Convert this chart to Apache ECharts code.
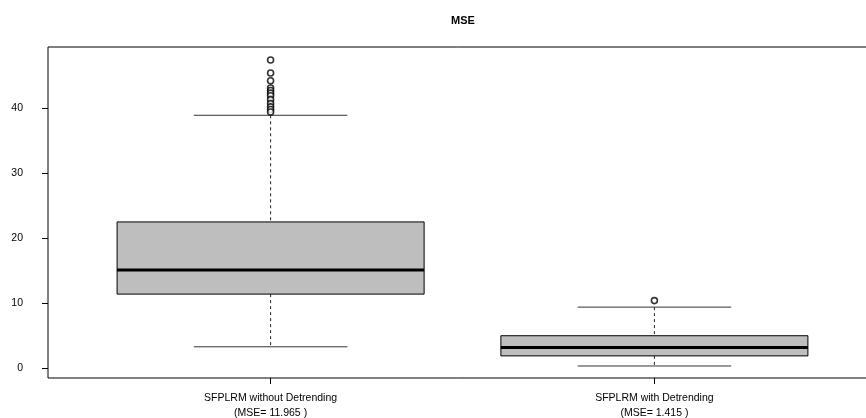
<!DOCTYPE html>
<html>
<head>
<meta charset="utf-8">
<script src="https://cdn.jsdelivr.net/npm/echarts@6/dist/echarts.min.js"></script>
<style>html,body{margin:0;padding:0;background:#fff}#c{width:866px;height:418px}</style>
</head>
<body>
<div id="c"></div>
<script>
// ---- data ----
const titleText = 'MSE';
const categories = ['SFPLRM without Detrending\n(MSE= 11.965 )', 'SFPLRM with Detrending\n(MSE= 1.415 )'];
const positions = [1, 2];
// [lower whisker, Q1, median, Q3, upper whisker]
const boxWithout = [3.3, 11.4, 15.1, 22.5, 38.9];
const boxWith = [0.35, 1.9, 3.2, 5.0, 9.4];
const outliersWithout = [47.4, 45.4, 44.2, 43.1, 42.7, 42.3, 41.9, 41.3, 40.7, 40.2, 39.8, 39.4];
const outliersWith = [10.4];
const yTicks = [0, 10, 20, 30, 40];

const boxData = [[positions[0]].concat(boxWithout), [positions[1]].concat(boxWith)];
const outlierData = outliersWithout.map(v => [positions[0], v]).concat(outliersWith.map(v => [positions[1], v]));

const FONT = 'Liberation Sans, Arial, Helvetica, sans-serif';
const chart = echarts.init(document.getElementById('c'), null, {renderer: 'canvas'});

function renderBox(params, api) {
  const x = api.value(0);
  const lo = api.value(1), q1 = api.value(2), med = api.value(3), q3 = api.value(4), hi = api.value(5);
  const hw = 0.4, cw = 0.2;
  const pL = api.coord([x - hw, q3]);
  const pR = api.coord([x + hw, q1]);
  const c = api.coord([x, med]);
  const pLo = api.coord([x, lo]);
  const pHi = api.coord([x, hi]);
  const cL = api.coord([x - cw, lo])[0];
  const cR = api.coord([x + cw, lo])[0];
  const ink = '#000';
  return {
    type: 'group',
    children: [
      {type: 'line', shape: {x1: c[0], y1: pHi[1], x2: c[0], y2: pL[1]}, style: {stroke: '#222', lineWidth: 1, lineDash: [3, 3]}},
      {type: 'line', shape: {x1: c[0], y1: pR[1], x2: c[0], y2: pLo[1]}, style: {stroke: '#222', lineWidth: 1, lineDash: [3, 3]}},
      {type: 'line', shape: {x1: cL, y1: pHi[1], x2: cR, y2: pHi[1]}, style: {stroke: '#333', lineWidth: 1}},
      {type: 'line', shape: {x1: cL, y1: pLo[1], x2: cR, y2: pLo[1]}, style: {stroke: '#333', lineWidth: 1}},
      {type: 'rect', shape: {x: pL[0], y: pL[1], width: pR[0] - pL[0], height: pR[1] - pL[1]}, style: {fill: '#bebebe', stroke: ink, lineWidth: 1}},
      {type: 'line', shape: {x1: pL[0], y1: c[1], x2: pR[0], y2: c[1]}, style: {stroke: ink, lineWidth: 3}}
    ]
  };
}

chart.setOption({
  animation: false,
  backgroundColor: '#fff',
  graphic: [{
    type: 'text', x: 463, y: 15,
    style: {text: titleText, textAlign: 'center', fill: '#000', font: 'bold 11px ' + FONT}
  }],
  grid: {left: 48, top: 47, width: 829, height: 331, show: true, borderColor: '#000', borderWidth: 1, outerBoundsMode: 'none', containLabel: false},
  xAxis: {
    type: 'value', min: 0.42, max: 2.58,
    axisLine: {show: false, onZero: false},
    splitLine: {show: false},
    axisTick: {show: true, customValues: positions, length: 6, lineStyle: {color: '#000', width: 1}},
    axisLabel: {
      show: true, customValues: positions, margin: 13,
      formatter: v => categories[positions.indexOf(Math.round(v))] || '',
      fontFamily: FONT, fontSize: 10.5, lineHeight: 15, color: '#000'
    }
  },
  yAxis: {
    type: 'value', min: -1.5, max: 49.4,
    axisLine: {show: false, onZero: false},
    splitLine: {show: false},
    axisTick: {show: true, customValues: yTicks, length: 6, lineStyle: {color: '#000'}},
    axisLabel: {show: true, customValues: yTicks, margin: 25, fontFamily: FONT, fontSize: 10.5, color: '#000'}
  },
  series: [
    {type: 'custom', renderItem: renderBox, data: boxData, encode: {x: 0, y: [1, 2, 3, 4, 5]}, z: 2},
    {type: 'scatter', data: outlierData, symbol: 'circle', symbolSize: 6,
     itemStyle: {color: '#fff', borderColor: '#000', borderWidth: 1.6}, z: 3}
  ]
});
</script>
</body>
</html>
